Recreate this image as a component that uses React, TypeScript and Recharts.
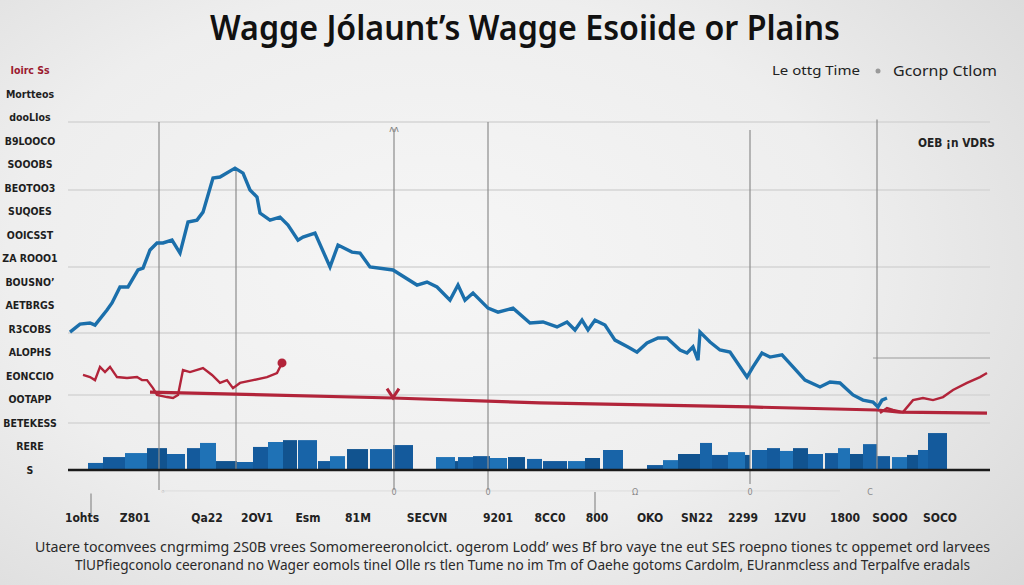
import React from 'react';
import { ComposedChart, Line, XAxis, YAxis, ReferenceLine, ReferenceArea, ReferenceDot } from 'recharts';

const TITLE = 'Wagge Jólaunt’s Wagge Esoiide or Plains';
const LEGEND_A = 'Le ottg Time';
const LEGEND_B = 'Gcornp Ctlom';
const CORNER_NOTE = 'OEB ¡n VDRS';
const FOOTER_1 = 'Utaere tocomvees cngrmimg 2S0B vrees Somomereeronolcict. ogerom Lodd’ wes Bf bro vaye tne eut SES  roepno tiones tc oppemet  ord larvees';
const FOOTER_2 = 'TlUPfiegconolo ceeronand no Wager eomols tinel Olle rs tlen  Tume no im  Tm of Oaehe gotoms Cardolm, EUranmcless and Terpalfve eradals';

// y tick labels, from bottom (0) to top (17)
const yTickLabels = ['S', 'RERE', 'BETEKESS', 'OOTAPP', 'EONCCIO', 'ALOPHS', 'R3COBS', 'AETBRGS', 'BOUSNO’', 'ZA ROOO1', 'OOICSST', 'SUQOES', 'BEOTOO3', 'SOOOBS', 'B9LOOCO', 'dooLIos', 'Mortteos', 'Ioirc Ss'];
const yTickValues = yTickLabels.map((_, i) => i);

const xTickValues = [14, 67, 139, 189, 240, 290, 359, 430, 482, 529, 582, 629, 675, 722, 777, 822, 872];
const xTickLabels = ['1ohts', 'Z801', 'Qa22', '2OV1', 'Esm', '81M', 'SECVN', '9201', '8CC0', '800', 'OKO', 'SN22', '2299', '1ZVU', '1800', 'SOOO', 'SOCO'];

// small marks under the axis [x, label]
const underMarks: [number, string][] = [[95, '◦'], [326, '0'], [420, '0'], [567, 'Ω'], [682, '0'], [802, 'C']];

// blue wage line [x, value]
const wageLine: [number, number][] = [
  [2, 5.86], [12, 6.2], [22, 6.25], [27, 6.16], [39, 6.8], [44, 7.1], [52, 7.78], [60, 7.78], [70, 8.5], [75, 8.58],
  [82, 9.35], [89, 9.65], [95, 9.65], [104, 9.77], [112, 9.22], [120, 10.54], [129, 10.62], [135, 10.96], [145, 12.41],
  [152, 12.45], [167, 12.83], [175, 12.62], [182, 11.9], [189, 11.6], [192, 10.92], [202, 10.62], [212, 10.75],
  [220, 10.41], [230, 9.77], [235, 9.9], [247, 10.07], [262, 8.63], [270, 9.56], [284, 9.26], [292, 9.22], [302, 8.63],
  [325, 8.5], [349, 7.86], [359, 7.99], [369, 7.78], [382, 7.22], [390, 7.86], [397, 7.22], [405, 7.52], [420, 6.88],
  [430, 6.71], [445, 6.88], [462, 6.25], [475, 6.29], [489, 6.08], [499, 6.29], [507, 5.95], [514, 6.37], [520, 5.95],
  [527, 6.37], [537, 6.16], [547, 5.52], [560, 5.23], [569, 5.01], [579, 5.4], [590, 5.61], [599, 5.61], [612, 5.1],
  [619, 4.97], [625, 5.23], [630, 4.67], [632, 5.86], [642, 5.44], [652, 5.1], [662, 5.01], [679, 3.95], [685, 4.38],
  [694, 4.97], [702, 4.8], [714, 4.89], [725, 4.38], [737, 3.82], [752, 3.53], [762, 3.74], [772, 3.7], [785, 3.19],
  [795, 2.97], [805, 2.89], [810, 2.68], [814, 2.97], [819, 3.06],
];

// red jagged segment, left
const redLeft: [number, number][] = [
  [15, 4.04], [22, 3.95], [27, 3.82], [32, 4.38], [37, 4.16], [42, 4.38], [49, 3.95], [59, 3.91], [69, 3.95], [74, 3.82],
  [79, 3.82], [85, 3.48], [89, 3.19], [99, 3.1], [105, 3.06], [110, 3.19], [115, 4.25], [122, 4.16], [135, 4.33],
  [144, 4.04], [152, 3.7], [159, 3.82], [165, 3.48], [172, 3.7], [185, 3.82], [199, 3.95], [209, 4.12], [214, 4.55],
];

// red trend line
const redTrend: [number, number][] = [
  [82, 3.31], [325, 3.06], [472, 2.85], [682, 2.68], [809, 2.55], [832, 2.46], [919, 2.42],
];

// red jagged segment, right
const redRight: [number, number][] = [
  [812, 2.42], [819, 2.63], [825, 2.55], [835, 2.46], [845, 2.97], [855, 3.06], [865, 2.97], [875, 3.1], [885, 3.4],
  [899, 3.7], [912, 3.95], [919, 4.12],
];

// bars [start, end, value]
const bars: [number, number, number][] = [
  [20, 35, 0.3], [35, 57, 0.55], [57, 79, 0.72], [79, 99, 0.93], [99, 117, 0.68], [119, 132, 0.93], [132, 148, 1.15],
  [148, 169, 0.38], [169, 185, 0.34], [185, 200, 0.98], [200, 215, 1.19], [215, 229, 1.27], [230, 249, 1.27],
  [250, 262, 0.38], [262, 277, 0.59], [279, 300, 0.89], [302, 324, 0.89], [325, 345, 1.06], [368, 387, 0.55],
  [387, 390, 0.38], [390, 405, 0.55], [405, 422, 0.59], [422, 439, 0.51], [440, 457, 0.55], [459, 474, 0.47],
  [475, 499, 0.38], [500, 517, 0.38], [517, 532, 0.51], [535, 555, 0.85], [579, 595, 0.21], [595, 610, 0.42],
  [610, 632, 0.68], [632, 644, 1.15], [644, 660, 0.64], [660, 677, 0.76], [677, 682, 0.64], [684, 699, 0.85],
  [699, 712, 0.93], [712, 725, 0.81], [725, 740, 0.93], [740, 755, 0.68], [757, 770, 0.72], [770, 782, 0.93],
  [782, 795, 0.68], [795, 809, 1.1], [809, 822, 0.59], [824, 839, 0.55], [839, 850, 0.64], [850, 860, 0.85],
  [860, 879, 1.57],
];
const barShades = ['#1864a8', '#145a9c', '#1f72b6', '#11538f'];

const gridValues = [14.79, 11.9, 8.63, 5.82, 3.19, 2.0];
// vertical markers [x, from, to]
const markerLines: [number, number, number][] = [
  [91, -0.85, 14.79], [168, 0, 12.83], [326, -0.85, 14.5], [420, -0.85, 14.79], [682, -0.6, 14.45], [809, 0, 14.9],
  [23, -1.0, -2.0], [527, -0.94, -2.0],
];

const toPts = (a: [number, number][]) => a.map(([x, y]) => ({ x, y }));

const COND = '"DejaVu Sans Condensed", "DejaVu Sans", sans-serif';
const BLUE = '#1b6fab';
const RED = '#b2243a';

const YTick = (props: any) => {
  const { y, payload } = props;
  const i = payload.value as number;
  return (
    <text x={30} y={y} dy={4} textAnchor="middle" fontFamily={COND} fontSize={10.5} fontWeight={700}
      fill={i === 17 ? '#9b1b30' : '#1e1e1e'}>{yTickLabels[i]}</text>
  );
};

const XTick = (props: any) => {
  const { x, y, payload } = props;
  const i = xTickValues.indexOf(payload.value);
  return (
    <text x={x} y={y} dy={44} textAnchor="middle" fontFamily={COND} fontSize={12} fontWeight={700} fill="#222">
      {xTickLabels[i]}
    </text>
  );
};

const MarkTick = (props: any) => {
  const { cx, cy, label } = props;
  return <text x={cx} y={cy} dy={4} textAnchor="middle" fontFamily={COND} fontSize={9} fill="#8a8a8a">{label}</text>;
};

const VMark = (props: any) => {
  const { cx, cy } = props;
  return <path d={`M${cx - 6},${cy - 6} L${cx},${cy + 3} L${cx + 6},${cy - 6}`} stroke={RED} strokeWidth={3} fill="none" />;
};

export default function App() {
  return (
    <div style={{ position: 'absolute', left: 0, top: 0, width: 1024, height: 585, overflow: 'hidden',
      background: 'radial-gradient(ellipse 75% 85% at 42% 45%, #f6f6f6 0%, #eeeeee 55%, #d9d9d9 100%)' }}>
      <ComposedChart width={1024} height={585} margin={{ top: 70, right: 34, bottom: 55, left: 0 }}>
        <XAxis type="number" dataKey="x" domain={[0, 922]} ticks={xTickValues} tick={<XTick />} axisLine={false}
          tickLine={false} height={60} allowDataOverflow interval={0} />
        <YAxis type="number" domain={[0, 17]} ticks={yTickValues} tick={<YTick />} axisLine={false} tickLine={false}
          width={68} interval={0} allowDataOverflow />
        {gridValues.map((g, i) => (
          <ReferenceLine key={'g' + i} y={g} stroke="#d4d4d4" strokeWidth={1.5} />
        ))}
        <ReferenceLine segment={[{ x: 805, y: 4.76 }, { x: 922, y: 4.76 }]} stroke="#9a9a9a" strokeWidth={1} />
        <ReferenceLine segment={[{ x: 95, y: -0.89 }, { x: 772, y: -0.89 }]} stroke="#dcdcdc" strokeWidth={1}
          ifOverflow="visible" />
        {markerLines.map(([x, a, b], i) => (
          <ReferenceLine key={'v' + i} segment={[{ x, y: a }, { x, y: b }]} stroke="#8c8c8c" strokeWidth={1.2}
            ifOverflow="visible" />
        ))}
        {underMarks.map(([x, l], i) => (
          <ReferenceDot key={'m' + i} x={x} y={-0.89} r={3} ifOverflow="visible" shape={<MarkTick label={l} />} />
        ))}
        {bars.map(([a, b, v], i) => (
          <ReferenceArea key={'b' + i} x1={a} x2={b} y1={0} y2={v} fill={barShades[i % barShades.length]}
            fillOpacity={1} stroke="none" />
        ))}
        <ReferenceLine y={0} stroke="#1a1a1a" strokeWidth={2.5} />
        <Line data={toPts(redTrend)} dataKey="y" type="linear" stroke={RED} strokeWidth={3.2} dot={false}
          isAnimationActive={false} />
        <Line data={toPts(redLeft)} dataKey="y" type="linear" stroke={RED} strokeWidth={2.4} dot={false}
          isAnimationActive={false} />
        <Line data={toPts(redRight)} dataKey="y" type="linear" stroke={RED} strokeWidth={2.4} dot={false}
          isAnimationActive={false} />
        <Line data={toPts(wageLine)} dataKey="y" type="linear" stroke={BLUE} strokeWidth={3.4} dot={false}
          isAnimationActive={false} />
        <ReferenceDot x={214} y={4.55} r={4.5} fill={RED} stroke="none" />
        <ReferenceDot x={325} y={3.2} r={6} shape={<VMark />} />
      </ComposedChart>
      <svg width={1024} height={585} style={{ position: 'absolute', left: 0, top: 0, pointerEvents: 'none' }}>
        <text x={210} y={40} fontFamily='"Noto Sans", sans-serif' fontSize={34} fontWeight={600} fill="#111"
          textLength={630} lengthAdjust="spacingAndGlyphs">{TITLE}</text>
        <text x={772} y={75} fontFamily='"Noto Sans", sans-serif' fontSize={13} fill="#222" textLength={88}
          lengthAdjust="spacingAndGlyphs">{LEGEND_A}</text>
        <circle cx={878} cy={71} r={2.5} fill="#9a9a9a" />
        <text x={893} y={76} fontFamily='"Noto Sans", sans-serif' fontSize={14} fill="#222" textLength={104}
          lengthAdjust="spacingAndGlyphs">{LEGEND_B}</text>
        <text x={918} y={147} fontFamily={COND} fontSize={12} fontWeight={700} fill="#222" textLength={77}
          lengthAdjust="spacingAndGlyphs">{CORNER_NOTE}</text>
        <text x={394} y={132} textAnchor="middle" fontFamily={COND} fontSize={9} fill="#777">ʌʌ</text>
        <text x={35} y={552} fontFamily='"Noto Sans", sans-serif' fontSize={14} fill="#2a2a2a" textLength={955}
          lengthAdjust="spacingAndGlyphs">{FOOTER_1}</text>
        <text x={75} y={570} fontFamily='"Noto Sans", sans-serif' fontSize={14} fill="#2a2a2a" textLength={895}
          lengthAdjust="spacingAndGlyphs">{FOOTER_2}</text>
      </svg>
    </div>
  );
}
